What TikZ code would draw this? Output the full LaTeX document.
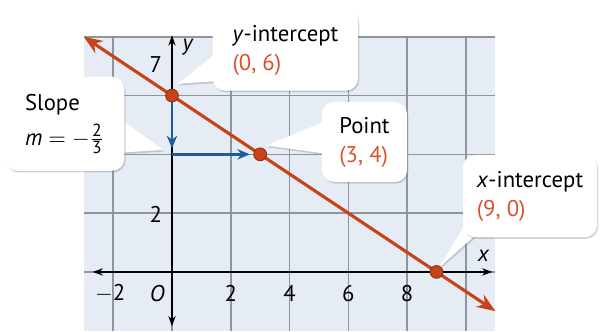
\documentclass[tikz,border=0pt]{standalone}
\usepackage{amsmath}
\usepackage{fontspec}
\setmainfont{PT Sans}
\usetikzlibrary{arrows.meta,shadows}

\definecolor{gridfill}{HTML}{E5ECF4}
\definecolor{gridgray}{HTML}{8E959C}
\definecolor{lineorange}{HTML}{C8421C}
\definecolor{labelred}{HTML}{D9522B}
\definecolor{slopeblue}{HTML}{1E5B9C}

\tikzset{
  callout/.style={fill=white, rounded corners=6pt,
    drop shadow={shadow xshift=0.6pt, shadow yshift=-0.8pt, opacity=0.35}},
  wedge/.style={callout, rounded corners=0pt},
  boxtext/.style={align=left, inner sep=0pt},
  ticklabel/.style={inner sep=0pt},
  dot/.style={circle, fill=lineorange, draw=lineorange!70!black, line width=0.4pt,
    minimum size=6.2pt, inner sep=0pt}
}
\newcommand{\fracdigit}[1]{\mbox{\fontsize{8.5}{9}\selectfont #1}}

\begin{document}
\begin{tikzpicture}[x=0.5cm,y=0.5cm, every node/.style={font=\fontsize{11}{14}\selectfont}]

	\useasboundingbox (-5.85,-2.04) rectangle (14.56,9.25);

	% grid
	\fill[gridfill] (-3,-2) rectangle (11,8);
	\draw[gridgray, line width=0.8pt] (-3,-2) grid (11,8);

	% axes
	\draw[line width=0.7pt, {Stealth[length=5pt,width=3.5pt]}-{Stealth[length=5pt,width=3.5pt]}] (-2.7,0) -- (10.9,0);
	\draw[line width=0.7pt, {Stealth[length=5pt,width=3.5pt]}-{Stealth[length=5pt,width=3.5pt]}] (0,-1.85) -- (0,8.05);

	\node[ticklabel] (t7) at (-0.55,7.05) {7};
	\node[ticklabel] (t2) at (-0.55,1.95) {2};
	\foreach \v in {2,4,6,8}
		\node[ticklabel] (x\v) at (\v,-0.72) {\v};
	\node[ticklabel] (xm2) at (-2.1,-0.72) {$-$2};
	\node[ticklabel] (orig) at (-0.5,-0.72) {\textit{O}};
	\node[ticklabel] (xlab) at (10.6,0.55) {\textit{x}};
	\node[ticklabel] (ylab) at (0.55,7.65) {\textit{y}};

	\coordinate (yi) at (0,6);
	\coordinate (pt) at (3,4);
	\coordinate (xi) at (9,0);
	\coordinate (foot) at (0,4);

	% line
	\draw[lineorange, line width=1.5pt, {Stealth[length=9pt,width=7pt]}-{Stealth[length=9pt,width=7pt]}] (-3,8) -- (11,-1.3333);

	% slope steps
	\draw[slopeblue, line width=1.4pt, -{Stealth[length=6pt,width=5pt]}, shorten >=3pt] (yi) -- (foot);
	\draw[slopeblue, line width=1.4pt, -{Stealth[length=6pt,width=5pt]}, shorten >=5pt] (foot) -- (pt);

	% callouts
	\fill[wedge] (1.7,7.6) -- (0.2,6.4) -- (1.7,6.5) -- cycle;
	\fill[wedge] (-1.9,5.3) -- (-0.3,4.15) -- (-1.9,4.05) -- cycle;
	\fill[wedge] (5.4,5.2) -- (3.2,4.3) -- (5.4,4.0) -- cycle;
	\fill[wedge] (10.2,2.0) -- (9.1,0.17) -- (10.5,1.4) -- cycle;

	\node[callout, minimum width=2.47cm, minimum height=1.375cm] (yibox) at (3.86,7.54) {};
	\node[boxtext] (yitext) at (yibox) {\textit{y}-intercept\\\textcolor{labelred}{(0, 6)}};

	\node[callout, minimum width=2.03cm, minimum height=1.6cm] (slbox) at (-3.65,5.04) {};
	\node[boxtext] (sltext) at (slbox) {Slope\\[3pt]\textit{m} $=$ $-\frac{\fracdigit{2}}{\fracdigit{3}}$};

	\node[callout, minimum width=1.45cm, minimum height=1.36cm] (ptbox) at (6.55,4.42) {};
	\node[boxtext] (pttext) at (ptbox) {Point\\\textcolor{labelred}{(3, 4)}};

	\node[callout, minimum width=2.28cm, minimum height=1.4cm] (xibox) at (12.18,2.58) {};
	\node[boxtext] (xitext) at (xibox) {\textit{x}-intercept\\\textcolor{labelred}{(9, 0)}};

	% points
	\node[dot] (dyi) at (yi) {};
	\node[dot] (dpt) at (pt) {};
	\node[dot] (dxi) at (xi) {};

\end{tikzpicture}
\end{document}
